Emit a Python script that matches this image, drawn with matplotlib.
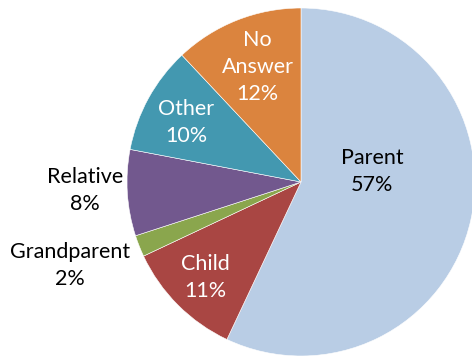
import matplotlib
matplotlib.use("Agg")
import matplotlib.pyplot as plt

categories = ["Parent", "Child", "Grandparent", "Relative", "Other", "No Answer"]
shares = [57, 11, 2, 8, 10, 12]
colors = ["#B9CDE5", "#A94643", "#8AA64D", "#72588E", "#4398B0", "#DB843E"]
label_colors = ["black", "white", "black", "black", "white", "white"]
label_text = ["Parent", "Child", "Grandparent", "Relative", "Other", "No\nAnswer"]
# label anchor points, in units of the pie radius
label_pos = [(0.41, 0.06), (-0.55, -0.55), (-1.33, -0.48),
             (-1.24, -0.05), (-0.66, 0.34), (-0.25, 0.66)]

W, H, R = 472, 356, 174
cx, cy = 301, 182

fig = plt.figure(figsize=(W / 100, H / 100), dpi=100)
ax = fig.add_axes([0, 0, 1, 1])
ax.pie(shares, colors=colors, startangle=90, counterclock=False,
       radius=1.0, wedgeprops=dict(edgecolor="white", linewidth=0.4))
ax.set_aspect("auto")
ax.set_xlim(-cx / R, (W - cx) / R)
ax.set_ylim(-(H - cy) / R, cy / R)
ax.axis("off")

for txt, val, (x, y), c in zip(label_text, shares, label_pos, label_colors):
    ax.text(x, y, f"{txt}\n{val}%", ha="center", va="center", color=c,
            fontsize=15.5, family="Lato", linespacing=1.45)

fig.savefig("out.png", dpi=100)
